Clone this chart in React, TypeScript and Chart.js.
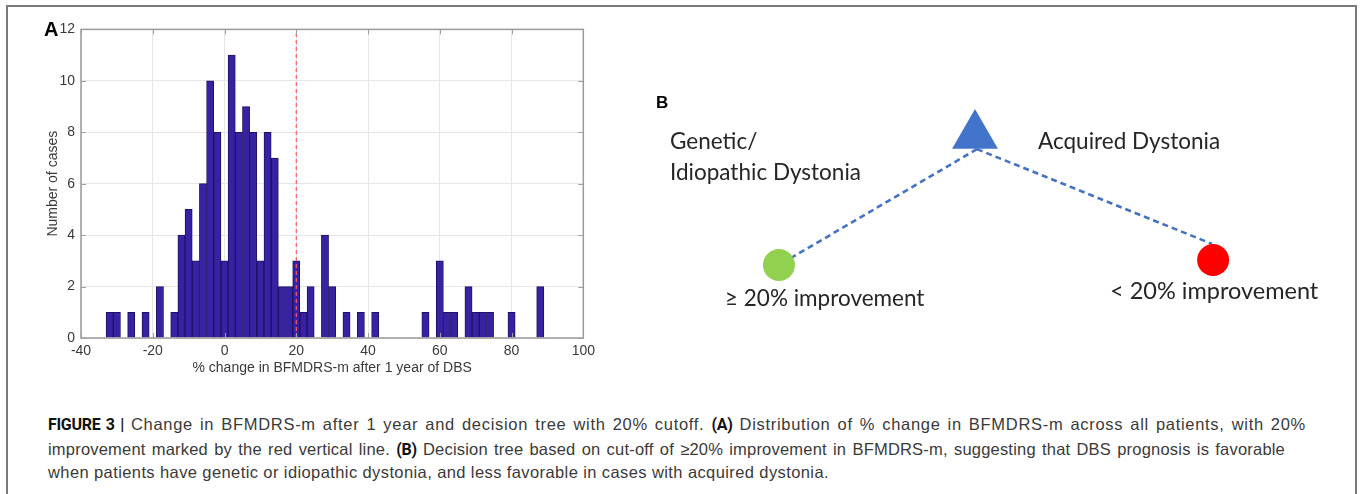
import React, { useEffect, useRef } from "react";
import { Chart, registerables } from "chart.js";

Chart.register(...registerables);

// ---------- Panel A data (histogram, bin width 2) ----------
const binCenters = [
  -32, -30, -28, -26, -24, -22, -20, -18, -16, -14, -12, -10, -8, -6, -4, -2,
  0, 2, 4, 6, 8, 10, 12, 14, 16, 18, 20, 22, 24, 26, 28, 30, 32, 34, 36, 38,
  40, 42, 44, 46, 48, 50, 52, 54, 56, 58, 60, 62, 64, 66, 68, 70, 72, 74, 76,
  78, 80, 82, 84, 86, 88,
];
const caseCounts = [
  1, 1, 0, 1, 0, 1, 0, 2, 0, 1, 4, 5, 3, 6, 10, 8,
  3, 11, 8, 9, 8, 3, 8, 7, 2, 2, 3, 1, 2, 0, 4, 2, 0, 1, 0, 1,
  0, 1, 0, 0, 0, 0, 0, 0, 1, 0, 3, 1, 1, 0, 2, 1, 1, 1, 0,
  0, 1, 0, 0, 0, 2,
];
const cutoffX = [20, 20];
const cutoffY = [0, 12];
const xAxisRange = [-40, 100];
const yAxisRange = [0, 12];
const xTickStep = 20;
const yTickStep = 2;

// ---------- Panel B data (decision tree) ----------
const nodeX = [46.53, 19.3, 79.6];
const nodeY = [23.1, 77.1, 75.0];
const nodeShapes = ["triangle", "circle", "circle"];
const nodeColors = ["#4374cb", "#92d050", "#ff0000"];
const nodeSizes = [26.5, 16, 16];
const leftBranchX = [46.8, 19.3];
const leftBranchY = [28.8, 77.1];
const rightBranchX = [46.8, 79.45];
const rightBranchY = [28.8, 68.3];

const axisBoxPlugin = {
  id: "axisBox",
  afterDatasetsDraw(chart: any) {
    const { ctx, chartArea: a, scales } = chart;
    ctx.save();
    ctx.strokeStyle = "#a0a0a0";
    ctx.lineWidth = 1;
    ctx.beginPath();
    const tl = 5;
    scales.x.ticks.forEach((t: any) => {
      const px = Math.round(scales.x.getPixelForValue(t.value)) + 0.5;
      ctx.moveTo(px, a.bottom);
      ctx.lineTo(px, a.bottom - tl);
      ctx.moveTo(px, a.top);
      ctx.lineTo(px, a.top + tl);
    });
    scales.y.ticks.forEach((t: any) => {
      const py = Math.round(scales.y.getPixelForValue(t.value)) + 0.5;
      ctx.moveTo(a.left, py);
      ctx.lineTo(a.left + tl, py);
      ctx.moveTo(a.right, py);
      ctx.lineTo(a.right - tl, py);
    });
    ctx.stroke();
    ctx.lineWidth = 1.5;
    ctx.strokeStyle = "#9a9a9a";
    ctx.strokeRect(a.left, a.top, a.right - a.left, a.bottom - a.top);
    ctx.restore();
  },
};

const axisFont = "'Liberation Sans', Arial, Helvetica, sans-serif";

function Histogram() {
  const ref = useRef<HTMLCanvasElement | null>(null);
  useEffect(() => {
    if (!ref.current) return;
    const chart = new Chart(ref.current, {
      type: "bar",
      data: {
        datasets: [
          {
            type: "line",
            data: cutoffX.map((x, i) => ({ x, y: cutoffY[i] })),
            borderColor: "#ff5a5a",
            borderWidth: 1.2,
            borderDash: [4, 3],
            pointRadius: 0,
            fill: false,
          } as any,
          {
            type: "bar",
            data: binCenters.map((x, i) => ({ x, y: caseCounts[i] })),
            backgroundColor: "#3822a3",
            borderColor: "#1c1264",
            borderWidth: 1,
            borderSkipped: "start",
            barPercentage: 1,
            categoryPercentage: 1,
          } as any,
        ],
      },
      options: {
        animation: false,
        responsive: false,
        maintainAspectRatio: false,
        layout: { padding: { left: 12, top: 10, right: 16, bottom: 0 } },
        plugins: { legend: { display: false }, tooltip: { enabled: false } },
        scales: {
          x: {
            type: "linear",
            min: xAxisRange[0],
            max: xAxisRange[1],
            offset: false,
            grid: { color: "#e6e6e6", drawTicks: false, offset: false },
            border: { display: false },
            ticks: {
              stepSize: xTickStep,
              padding: 5,
              color: "#3a3a3a",
              font: { family: axisFont, size: 14 },
              maxRotation: 0,
            },
            title: {
              display: true,
              text: "% change in BFMDRS-m after 1 year of DBS",
              color: "#3a3a3a",
              font: { family: axisFont, size: 14 },
              padding: { top: 0, bottom: 8.6 },
            },
            afterFit: (s: any) => {
              s.height = 47;
            },
          },
          y: {
            type: "linear",
            min: yAxisRange[0],
            max: yAxisRange[1],
            grid: { color: "#e6e6e6", drawTicks: false },
            border: { display: false },
            ticks: {
              stepSize: yTickStep,
              padding: 6,
              color: "#3a3a3a",
              font: { family: axisFont, size: 14 },
            },
            title: {
              display: true,
              text: "Number of cases",
              color: "#3a3a3a",
              font: { family: axisFont, size: 14 },
              padding: { top: 2.6, bottom: 0 },
            },
            afterFit: (s: any) => {
              s.width = 39;
            },
          },
        },
      } as any,
      plugins: [axisBoxPlugin],
    });
    return () => chart.destroy();
  }, []);
  return (
    <canvas
      ref={ref}
      width={570}
      height={370}
      style={{ position: "absolute", left: 30, top: 15, width: 570, height: 370 }}
    />
  );
}

function DecisionTree() {
  const ref = useRef<HTMLCanvasElement | null>(null);
  useEffect(() => {
    if (!ref.current) return;
    const branchStyle = {
      showLine: true,
      pointRadius: 0,
      borderColor: "#4472c4",
      borderWidth: 2.6,
      borderDash: [6, 4],
      fill: false,
    };
    const chart = new Chart(ref.current, {
      type: "scatter",
      data: {
        datasets: [
          {
            data: nodeX.map((x, i) => ({ x, y: nodeY[i] })),
            pointStyle: nodeShapes,
            pointRadius: nodeSizes,
            backgroundColor: nodeColors,
            borderColor: nodeColors,
            borderWidth: 0,
          } as any,
          {
            ...branchStyle,
            data: leftBranchX.map((x, i) => ({ x, y: leftBranchY[i] })),
          } as any,
          {
            ...branchStyle,
            data: rightBranchX.map((x, i) => ({ x, y: rightBranchY[i] })),
          } as any,
        ],
      },
      options: {
        animation: false,
        responsive: false,
        maintainAspectRatio: false,
        layout: { padding: 0, autoPadding: false },
        plugins: { legend: { display: false }, tooltip: { enabled: false } },
        scales: {
          x: { type: "linear", min: 0, max: 100, display: false },
          y: { type: "linear", min: 0, max: 100, reverse: true, display: false },
        },
      } as any,
    });
    return () => chart.destroy();
  }, []);
  return (
    <canvas
      ref={ref}
      width={720}
      height={240}
      style={{ position: "absolute", left: 640, top: 80, width: 720, height: 240 }}
    />
  );
}

const treeFont: React.CSSProperties = {
  position: "absolute",
  fontFamily: "Lato, 'Open Sans', sans-serif",
  fontSize: 22.5,
  lineHeight: "26px",
  color: "#262626",
  whiteSpace: "nowrap",
};

const capFont: React.CSSProperties = {
  position: "absolute",
  left: 48,
  fontFamily: "'Liberation Sans', Arial, Helvetica, sans-serif",
  fontSize: 16.5,
  lineHeight: "24px",
  color: "#3a3a3a",
  whiteSpace: "normal",
  textAlign: "justify",
  letterSpacing: 0.2,
};

const capBold: React.CSSProperties = {
  fontFamily: "Roboto, 'Liberation Sans', Arial, sans-serif",
  fontWeight: "bold",
  fontSize: 16,
  color: "#111",
  letterSpacing: -0.3,
};

export default function App() {
  return (
    <div
      style={{
        position: "absolute",
        left: 0,
        top: 0,
        width: 1360,
        height: 494,
        overflow: "hidden",
        background: "#fff",
      }}
    >
      <div
        style={{
          position: "absolute",
          left: 6,
          top: 5,
          width: 1347,
          height: 520,
          border: "2px solid #7a7a7a",
        }}
      />
      <Histogram />
      <div
        style={{
          position: "absolute",
          left: 44,
          top: 19,
          fontFamily: axisFont,
          fontWeight: "bold",
          fontSize: 20,
          lineHeight: "20px",
          color: "#000",
        }}
      >
        A
      </div>
      <DecisionTree />
      <div
        style={{
          position: "absolute",
          left: 656,
          top: 94,
          fontFamily: axisFont,
          fontWeight: "bold",
          fontSize: 17,
          lineHeight: "17px",
          color: "#000",
        }}
      >
        B
      </div>
      <div style={{ ...treeFont, left: 670, top: 128 }}>Genetic/</div>
      <div style={{ ...treeFont, left: 670, top: 159 }}>Idiopathic Dystonia</div>
      <div style={{ ...treeFont, left: 1038, top: 128 }}>Acquired Dystonia</div>
      <div style={{ ...treeFont, left: 725, top: 285 }}>≥ 20% improvement</div>
      <div style={{ ...treeFont, left: 1110, top: 277, fontSize: 23.5 }}>&lt; 20% improvement</div>

      <div style={{ ...capFont, top: 412, width: 1258, textAlignLast: "justify", letterSpacing: 0.7 }}>
        <span style={capBold}>FIGURE 3 |</span> Change in BFMDRS-m after 1 year and decision tree with 20% cutoff.{" "}
        <span style={capBold}>(A)</span> Distribution of % change in BFMDRS-m across all patients, with 20%
      </div>
      <div style={{ ...capFont, top: 437, width: 1237, textAlignLast: "justify" }}>
        improvement marked by the red vertical line. <span style={capBold}>(B)</span> Decision tree based on
        cut-off of ≥20% improvement in BFMDRS-m, suggesting that DBS prognosis is favorable
      </div>
      <div style={{ ...capFont, top: 460, width: 1200, textAlign: "left", letterSpacing: 0.4 }}>
        when patients have genetic or idiopathic dystonia, and less favorable in cases with acquired dystonia.
      </div>
    </div>
  );
}
